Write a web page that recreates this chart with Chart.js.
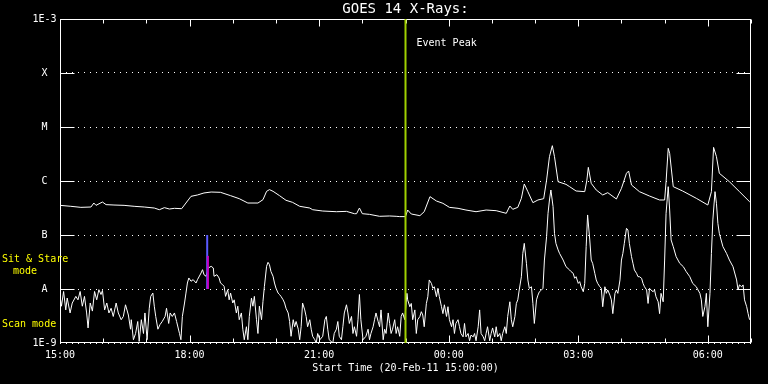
<!DOCTYPE html>
<html><head><meta charset="utf-8">
<script src="https://cdn.jsdelivr.net/npm/chart.js@4.4.1/dist/chart.umd.min.js"></script>
<style>html,body{margin:0;padding:0;background:#000;}#wrap{width:768px;height:384px;}</style>
</head><body><div id="wrap"><canvas id="c" width="768" height="384"></canvas></div>
<script>
// minutes since 20-Feb-11 15:00 UT
const longTimes = [0,15,29,43,47,50,59,64,75,89,103,117,131,138,145,152,159,169,175,182,191,200,210,223,237,
 249,261,275,282,287,291,296,305,314,323,333,347,351,365,384,398,409,412,416,420,430,444,458,467,
 472,480,483,488,500,506,514,523,532,541,553,564,578,592,606,620,625,629,636,641,645,650,657,664,672,676,680,684,687,692,703,
 708,717,729,732,734,738,745,754,761,773,780,787,790,794,805,819,833,840,842,845,847,852,865,884,900,905,908,912,916,930,944,958,960];
const longFlux = [3.54e-7,3.40e-7,3.25e-7,3.30e-7,3.91e-7,3.54e-7,4.08e-7,3.65e-7,3.59e-7,3.54e-7,3.40e-7,3.30e-7,3.16e-7,2.94e-7,3.21e-7,3.03e-7,3.12e-7,3.07e-7,3.91e-7,5.20e-7,5.51e-7,6.0e-7,6.25e-7,6.17e-7,5.35e-7,
 4.71e-7,3.91e-7,3.91e-7,4.51e-7,6.44e-7,6.92e-7,6.44e-7,5.35e-7,4.39e-7,4.03e-7,3.40e-7,3.16e-7,2.94e-7,2.78e-7,2.70e-7,2.74e-7,2.48e-7,2.48e-7,3.16e-7,2.48e-7,2.41e-7,2.22e-7,2.25e-7,2.22e-7,
 2.19e-7,2.19e-7,2.90e-7,2.45e-7,2.28e-7,2.70e-7,5.13e-7,4.26e-7,3.86e-7,3.25e-7,3.12e-7,2.90e-7,2.70e-7,2.90e-7,2.82e-7,2.52e-7,3.44e-7,2.99e-7,3.25e-7,4.78e-7,8.80e-7,6.35e-7,3.97e-7,4.45e-7,4.71e-7,1.04e-6,2.82e-6,4.51e-6,2.82e-6,9.7e-7,8.67e-7,
 7.85e-7,6.53e-7,6.35e-7,1.04e-6,1.79e-6,9.05e-7,6.81e-7,5.51e-7,6.08e-7,4.64e-7,7.31e-7,1.39e-6,1.53e-6,8.43e-7,6.35e-7,5.27e-7,4.45e-7,4.45e-7,9.7e-7,4.03e-6,3.25e-6,7.85e-7,6.53e-7,4.78e-7,3.59e-7,6.35e-7,4.2e-6,2.82e-6,1.39e-6,9.7e-7,6.35e-7,4.14e-7,4.0e-7];

const shortTimes = [0,2,5,8,10,14,17,22,25,28,31,34,37,39,42,45,48,51,54,57,59,62,65,68,71,74,78,81,85,88,91,95,98,99,102,105,108,110,113,116,118,121,124,126,129,131,133,136,139,142,146,148,151,153,156,159,162,166,168,170,173,175,177,179,182,185,189,191,196,198,200,203,206,210,213,214,218,221,223,226,228,230,233,235,237,
 240,242,245,247,249,252,254,256,259,261,263,266,268,270,273,275,277,280,282,284,287,289,291,293,296,298,300,303,305,307,310,312,314,317,319,321,324,326,328,331,333,335,337,340,342,344,347,349,351,354,356,358,361,365,368,370,372,374,379,381,384,386,388,391,393,395,398,400,402,405,407,409,412,414,416,418,421,425,428,430,432,435,437,439,442,444,446,449,451,453,456,458,460,462,465,467,469,472,474,476,479,
 482,483,486,488,490,493,495,497,500,502,504,506,509,511,513,516,518,520,523,525,527,530,532,534,537,539,541,544,546,548,550,553,555,557,560,562,564,567,569,571,574,576,578,581,583,585,588,590,592,594,597,599,601,604,606,608,611,613,615,618,620,622,625,627,629,632,634,636,638,641,643,645,648,650,652,655,657,659,662,664,666,669,671,673,676,678,680,682,685,687,689,692,694,699,703,708,
 710,713,715,717,720,722,724,727,729,731,733,736,738,740,743,745,747,750,752,754,757,759,761,764,766,768,771,773,775,778,780,782,784,787,789,791,794,796,798,801,803,805,808,810,812,815,817,819,821,824,826,828,831,833,835,838,840,842,845,847,849,852,856,861,866,870,875,879,884,889,891,893,896,898,900,903,905,907,910,912,914,916,921,926,930,935,940,942,944,947,949,951,954,956,958];
const shortFlux = [7.3e-9,4.8e-9,9.0e-9,4.1e-9,6.8e-9,3.6e-9,5.5e-9,7.3e-9,6.3e-9,9.0e-9,4.8e-9,7.3e-9,3.6e-9,1.9e-9,5.5e-9,3.9e-9,9.0e-9,6.3e-9,9.7e-9,7.9e-9,9.4e-9,4.1e-9,5.5e-9,3.6e-9,4.4e-9,3.1e-9,5.5e-9,3.6e-9,2.7e-9,3.1e-9,5.1e-9,3.3e-9,1.8e-9,2.7e-9,1.15e-9,1.5e-9,2.5e-9,1.07e-9,2.7e-9,1.5e-9,3.6e-9,1.15e-9,4.4e-9,7.3e-9,8.4e-9,4.8e-9,3.1e-9,1.8e-9,2.2e-9,2.5e-9,3.1e-9,4.4e-9,2.3e-9,3.6e-9,3.1e-9,3.6e-9,2.5e-9,1.5e-9,1.15e-9,3.1e-9,5.5e-9,8.4e-9,1.29e-8,1.6e-8,1.39e-8,1.49e-8,1.29e-8,1.49e-8,1.98e-8,2.28e-8,1.84e-8,1.72e-8,2.45e-8,2.63e-8,2.45e-8,1.72e-8,1.84e-8,1.6e-8,1.29e-8,1.2e-8,1.12e-8,7.3e-9,9.7e-9,6.3e-9,8.4e-9,
 5.5e-9,6.3e-9,3.6e-9,4.8e-9,2.7e-9,3.6e-9,1.8e-9,1.15e-9,2.0e-9,1.15e-9,3.1e-9,6.8e-9,4.8e-9,7.3e-9,2.7e-9,1.5e-9,4.8e-9,2.7e-9,5.9e-9,1.12e-8,2.63e-8,3.12e-8,2.82e-8,2.12e-8,1.72e-8,1.29e-8,1.04e-8,8.4e-9,7.9e-9,7.3e-9,6.3e-9,5.5e-9,4.4e-9,3.6e-9,2.5e-9,1.33e-9,2.7e-9,2.0e-9,2.5e-9,1.8e-9,1.15e-9,2.0e-9,5.5e-9,4.1e-9,3.1e-9,2.0e-9,2.7e-9,1.8e-9,1.33e-9,1.15e-9,1.0e-9,1.5e-9,1.15e-9,1.33e-9,2.7e-9,3.1e-9,1.8e-9,1.15e-9,1.0e-9,1.5e-9,1.8e-9,2.5e-9,1.33e-9,1.15e-9,2.0e-9,3.6e-9,5.1e-9,3.6e-9,2.3e-9,3.1e-9,1.5e-9,2.0e-9,1.33e-9,2.7e-9,7.9e-9,2.7e-9,1.15e-9,1.33e-9,1.8e-9,1.15e-9,1.5e-9,2.0e-9,2.7e-9,3.6e-9,2.5e-9,2.0e-9,4.1e-9,1.15e-9,1.8e-9,1.5e-9,3.6e-9,2.3e-9,1.5e-9,1.8e-9,2.7e-9,1.5e-9,2.0e-9,1.33e-9,3.1e-9,3.6e-9,2.7e-9,
 8.3e-9,6.3e-9,4.7e-9,5.4e-9,2.7e-9,4.1e-9,1.5e-9,2.7e-9,3.1e-9,3.8e-9,3.3e-9,2.0e-9,5.4e-9,7.2e-9,1.47e-8,1.27e-8,1.03e-8,1.1e-8,7.2e-9,1.03e-8,7.2e-9,4.7e-9,3.5e-9,5.1e-9,3.1e-9,4.7e-9,2.7e-9,2.0e-9,2.7e-9,1.5e-9,2.3e-9,2.7e-9,2.0e-9,1.5e-9,1.3e-9,2.3e-9,1.3e-9,1.5e-9,1.1e-9,1.4e-9,1.3e-9,1.5e-9,1.1e-9,2.0e-9,4.1e-9,1.5e-9,1.3e-9,1.1e-9,1.5e-9,2.0e-9,1.1e-9,1.5e-9,1.9e-9,1.3e-9,2.0e-9,1.3e-9,1.5e-9,1.1e-9,1.5e-9,2.0e-9,1.5e-9,3.1e-9,5.8e-9,2.7e-9,2.0e-9,3.1e-9,5.4e-9,6.3e-9,9.6e-9,1.69e-8,4.57e-8,7.0e-8,2.99e-8,1.47e-8,1.03e-8,1.1e-8,5.4e-9,2.3e-9,6.3e-9,7.7e-9,8.9e-9,9.6e-9,1.03e-8,3.44e-8,9.3e-8,2.52e-7,4.45e-7,6.81e-7,3.35e-7,1.07e-7,7.0e-8,5.3e-8,4.57e-8,3.44e-8,2.59e-8,2.25e-8,
 2.1e-8,1.95e-8,1.58e-8,1.69e-8,1.27e-8,1.37e-8,1.1e-8,8.9e-9,1.27e-8,6.08e-8,2.35e-7,8.1e-8,3.44e-8,2.99e-8,1.95e-8,1.47e-8,1.27e-8,1.1e-8,1.03e-8,4.7e-9,1.1e-8,8.3e-9,9.6e-9,7.7e-9,6.3e-9,3.5e-9,8.3e-9,9.6e-9,8.3e-9,1.47e-8,3.44e-8,4.57e-8,7.0e-8,1.33e-7,1.24e-7,7.0e-8,3.97e-8,2.99e-8,2.25e-8,1.95e-8,1.69e-8,1.69e-8,1.58e-8,1.27e-8,1.1e-8,9.6e-9,5.4e-9,1.03e-8,9.6e-9,8.9e-9,9.6e-9,7.2e-9,5.8e-9,3.5e-9,8.3e-9,5.8e-9,3.44e-8,2.52e-7,7.85e-7,2.9e-7,8.1e-8,6.08e-8,3.97e-8,2.99e-8,2.59e-8,2.1e-8,1.69e-8,1.27e-8,1.1e-8,8.3e-9,6.3e-9,3.1e-9,4.7e-9,8.3e-9,2.0e-9,8.3e-9,4.57e-8,1.9e-7,6.35e-7,3.86e-7,1.64e-7,1.07e-7,6.08e-8,4.57e-8,3.44e-8,2.59e-8,1.47e-8,9.6e-9,1.19e-8,1.1e-8,1.19e-8,6.3e-9,4.7e-9,3.5e-9,2.7e-9];

const yTickValues = [1e-9,1e-8,1e-7,1e-6,1e-5,1e-4,1e-3];
const yTickLabels = ['1E-9','A','B','C','M','X','1E-3'];
const xTickValues = [0,180,360,540,720,900];
const xTickLabels = ['15:00','18:00','21:00','00:00','03:00','06:00'];
const eventPeakTimes = [480,480];
const eventPeakFlux = [1e-9,1e-3];
const stareTimesBlue = [204.5,204.5];
const stareFluxBlue = [1e-8,1e-7];
const stareTimesMag = [205.5,205.5];
const stareFluxMag = [1e-8,4.1e-8];
const chartTitle = 'GOES 14 X-Rays:';

const FONT = '"DejaVu Sans Mono", "Liberation Mono", monospace';
const pts = (xs, ys) => xs.map((t,i)=>({x:t,y:ys[i]}));

const decor = {
  id:'decor',
  beforeDraw(chart){
    const c=chart.ctx; c.save(); c.fillStyle='#000'; c.fillRect(0,0,chart.width,chart.height); c.restore();
  },
  beforeDatasetsDraw(chart){
    const {ctx, chartArea:a, scales:{x,y}} = chart;
    ctx.save(); ctx.strokeStyle='#fff'; ctx.lineWidth=1;
    const L=Math.round(a.left)+0.5, R=Math.round(a.right)-0.5, T=Math.round(a.top)+0.5, B=Math.round(a.bottom)-0.5;
    ctx.strokeRect(L,T,R-L,B-T);
    ctx.beginPath();
    yTickValues.forEach(v=>{ const py=Math.round(y.getPixelForValue(v))+(v===1e-9?-0.5:0.5);
      ctx.moveTo(L,py); ctx.lineTo(L+14,py); ctx.moveTo(R,py); ctx.lineTo(R-14,py); });
    for(let m=0;m<=960;m+=60){ const px=Math.round(x.getPixelForValue(m))+0.5; const len=(m%180===0)?7:4;
      ctx.moveTo(px,T); ctx.lineTo(px,T+len); ctx.moveTo(px,B); ctx.lineTo(px,B-len); }
    ctx.stroke();
    ctx.restore();
  },
  afterDatasetsDraw(chart){
    const {ctx, chartArea:a, scales:{x}} = chart;
    ctx.save();
    ctx.textBaseline='middle';
    ctx.fillStyle='#fff';
    ctx.font='14px '+FONT; ctx.textAlign='center';
    ctx.fillText(chartTitle, (a.left+a.right)/2, 9);
    ctx.font='10px '+FONT; ctx.textAlign='left';
    ctx.fillText('Event Peak', x.getPixelForValue(eventPeakTimes[0])+11, 43);
    ctx.fillStyle='#ffff00';
    ctx.fillText('Sit & Stare', 2, 259);
    ctx.fillText('mode', 13, 271);
    ctx.fillText('Scan mode', 2, 324);
    ctx.restore();
  }
};

new Chart(document.getElementById('c'), {
  type:'line',
  data:{ datasets:[
    {label:'Event Peak', data:pts(eventPeakTimes,eventPeakFlux), borderColor:'#a0d000', borderWidth:2, order:0},
    {label:'Sit & Stare (0.5-4 A)', data:pts(stareTimesMag,stareFluxMag), borderColor:'#c800c8', borderWidth:2, order:1},
    {label:'Sit & Stare (1-8 A)', data:pts(stareTimesBlue,stareFluxBlue), borderColor:'#5a5aff', borderWidth:2, order:2},
    {label:'1-8 A', data:pts(longTimes,longFlux), borderColor:'#ffffff', borderWidth:1, order:3},
    {label:'0.5-4 A', data:pts(shortTimes,shortFlux), borderColor:'#ffffff', borderWidth:1, order:4}
  ]},
  options:{
    responsive:false, animation:false, events:[], devicePixelRatio:1,
    elements:{point:{radius:0}, line:{tension:0, fill:false}},
    layout:{padding:{left:0,right:17,top:19,bottom:0}},
    plugins:{ legend:{display:false}, tooltip:{enabled:false}, title:{display:false} },
    scales:{
      x:{type:'linear', min:0, max:960,
        afterBuildTicks:(s)=>{ s.ticks = xTickValues.map(v=>({value:v})); },
        afterFit:(s)=>{ s.height=41; },
        ticks:{color:'#fff', font:{family:FONT,size:10}, padding:6, maxRotation:0, autoSkip:false,
          callback:(v,i)=>xTickLabels[i]},
        grid:{display:false, drawTicks:false}, border:{display:false},
        title:{display:true, text:'Start Time (20-Feb-11 15:00:00)', color:'#fff', font:{family:FONT,size:10,lineHeight:1.2}, padding:{top:0,bottom:10}}
      },
      y:{type:'logarithmic', min:1e-9, max:1e-3,
        afterBuildTicks:(s)=>{ s.ticks = yTickValues.map(v=>({value:v})); },
        afterFit:(s)=>{ s.width=60; },
        ticks:{color:'#fff', font:{family:FONT,size:10}, padding:3.5, crossAlign:'center', autoSkip:false,
          callback:(v,i)=>yTickLabels[i]},
        grid:{color:'#fff', lineWidth:1, drawTicks:false},
        border:{display:false, dash:[1,5]}
      }
    }
  },
  plugins:[decor]
});
</script></body></html>
